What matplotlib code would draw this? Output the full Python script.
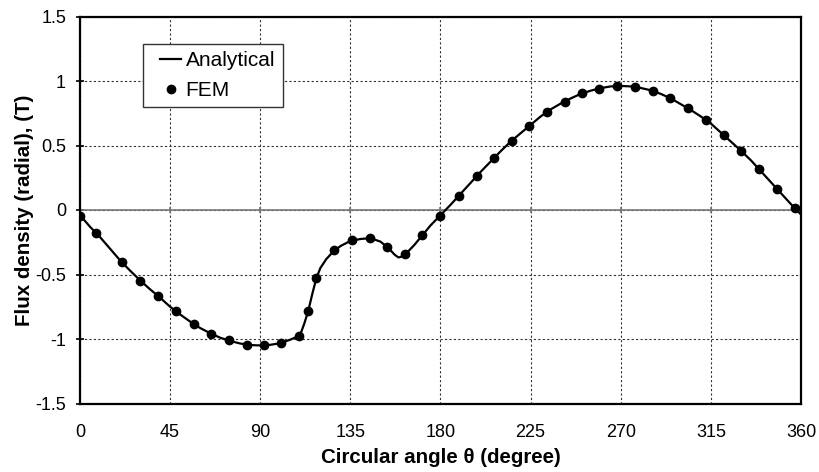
import matplotlib
matplotlib.use("Agg")
import matplotlib.pyplot as plt
from matplotlib.legend_handler import HandlerLine2D

plt.rcParams['font.family'] = ['Liberation Sans', 'DejaVu Sans']

# Analytical curve
ana_theta = [0, 5, 10, 15, 20, 25, 30, 35, 40, 45, 50, 55, 60, 65, 70, 75, 80, 85, 90,
             95, 100, 105, 108, 110, 112, 114, 116, 118, 120, 123, 126, 130, 135, 140,
             145, 150, 154, 157, 159, 161, 163, 167, 171, 175, 180, 185, 190, 195, 200,
             205, 210, 215, 220, 225, 230, 235, 240, 245, 250, 255, 260, 265, 270, 275,
             280, 285, 290, 295, 300, 305, 310, 315, 320, 325, 330, 335, 340, 345, 350,
             355, 360]
ana_B = [-0.04, -0.13, -0.21, -0.30, -0.39, -0.47, -0.545, -0.615, -0.68, -0.75, -0.81,
         -0.865, -0.915, -0.955, -0.99, -1.015, -1.035, -1.047, -1.05, -1.045, -1.033,
         -1.005, -0.985, -0.965, -0.88, -0.78, -0.65, -0.53, -0.45, -0.38, -0.33, -0.28,
         -0.24, -0.225, -0.218, -0.245, -0.295, -0.345, -0.368, -0.36, -0.335, -0.27,
         -0.195, -0.12, -0.04, 0.04, 0.125, 0.21, 0.295, 0.375, 0.455, 0.53, 0.595, 0.66,
         0.725, 0.78, 0.825, 0.865, 0.90, 0.925, 0.945, 0.958, 0.962, 0.958, 0.946, 0.928,
         0.90, 0.865, 0.82, 0.775, 0.725, 0.67, 0.60, 0.53, 0.46, 0.385, 0.30, 0.215, 0.13,
         0.045, -0.035]

# FEM points
fem_theta = [0, 8, 21, 30, 39, 48, 57, 65.5, 74.5, 83.5, 92, 100.5, 109.5, 114, 118, 127,
             136, 145, 153.5, 162.5, 171, 180, 189, 198, 206.5, 215.5, 224, 233, 242, 250.5,
             259, 268, 277, 286, 294.5, 303.5, 312.5, 321.5, 330, 339, 348, 357]
fem_B = [-0.047, -0.18, -0.405, -0.547, -0.67, -0.785, -0.886, -0.958, -1.01, -1.043,
         -1.049, -1.031, -0.974, -0.785, -0.527, -0.312, -0.232, -0.217, -0.289, -0.341,
         -0.194, -0.044, 0.108, 0.26, 0.40, 0.532, 0.65, 0.757, 0.838, 0.905, 0.94, 0.964,
         0.956, 0.926, 0.866, 0.79, 0.70, 0.58, 0.454, 0.316, 0.164, 0.016]

x_ticks = [0, 45, 90, 135, 180, 225, 270, 315, 360]
y_ticks = [-1.5, -1, -0.5, 0, 0.5, 1, 1.5]
y_ticklabels = ['-1.5', '-1', '-0.5', '0', '0.5', '1', '1.5']


class ShiftedHandler(HandlerLine2D):
    def __init__(self, shift, **kw):
        super().__init__(**kw)
        self.shift = shift

    def create_artists(self, legend, orig_handle, xdescent, ydescent, width, height,
                       fontsize, trans):
        return super().create_artists(legend, orig_handle, xdescent - self.shift,
                                      ydescent, width - self.shift, height, fontsize, trans)


fig = plt.figure(figsize=(8.2, 4.72), dpi=100)
ax = fig.add_axes([80 / 820, 1 - 403.5 / 472, 721 / 820, 387 / 472])

ax.set_xlim(0, 360)
ax.set_ylim(-1.5, 1.5)
ax.set_xticks(x_ticks)
ax.set_yticks(y_ticks)
ax.set_yticklabels(y_ticklabels)

ax.grid(True, color='#333333', linestyle=(0, (2, 2)), linewidth=0.8)
ax.axhline(0, color='#777777', linewidth=1.2, zorder=2)
ax.plot(x_ticks, [0] * len(x_ticks), linestyle='none', marker='|', markersize=5,
        color='#777777', markeredgewidth=1.2, zorder=2)

l_ana, = ax.plot(ana_theta, ana_B, color='black', linewidth=1.6, label='Analytical', zorder=3)
l_fem, = ax.plot(fem_theta, fem_B, linestyle='none', marker='o', markersize=6, color='black',
                 label='FEM', zorder=4)

for s in ax.spines.values():
    s.set_color('black')
    s.set_linewidth(1.6)

ax.tick_params(axis='x', length=0, pad=15, labelsize=13)
ax.tick_params(axis='y', direction='inout', length=6, width=1.2, pad=7, labelsize=13)

ax.set_xlabel('Circular angle θ (degree)', fontsize=14.8, fontweight='bold', labelpad=5)
ax.set_ylabel('Flux density (radial), (T)', fontsize=14.8, fontweight='bold', labelpad=1)

shift_pt = 7.0
leg = ax.legend(handles=[l_ana, l_fem], loc='upper left', bbox_to_anchor=(0.087, 0.929),
                fontsize=15, frameon=True, fancybox=False, shadow=False,
                edgecolor='#333333', handlelength=1.5, handletextpad=0.2, borderpad=0.36,
                labelspacing=0.5, borderaxespad=0, framealpha=1,
                handler_map={l_ana: ShiftedHandler(shift_pt), l_fem: ShiftedHandler(shift_pt)})
leg.get_frame().set_linewidth(1.0)

fig.savefig('out.png', dpi=100)
